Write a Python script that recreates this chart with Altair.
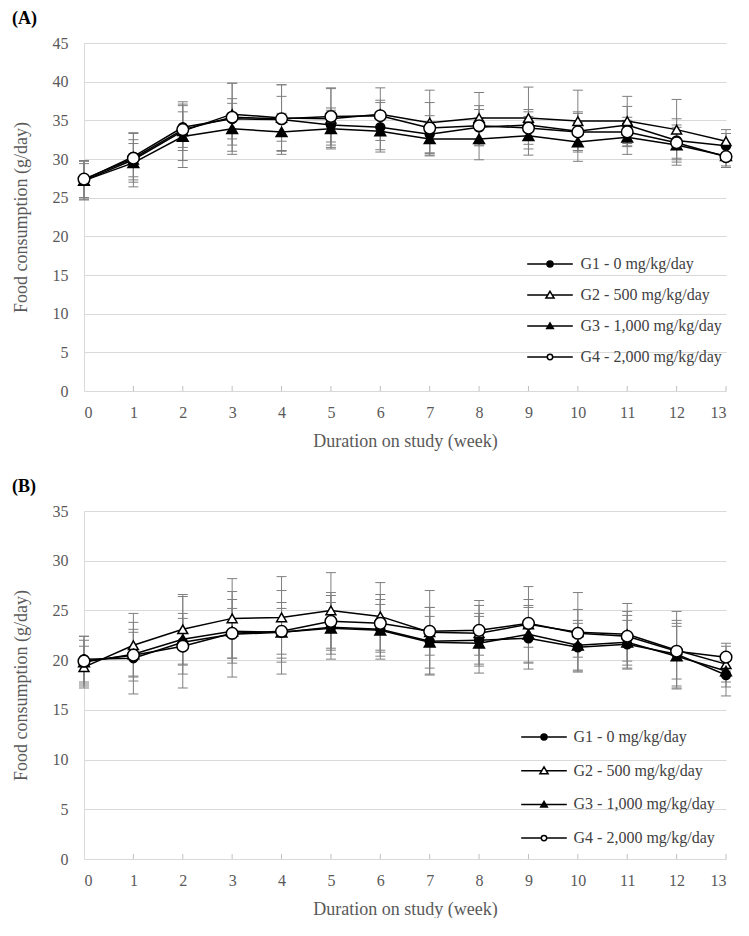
import altair as alt
import pandas as pd

weeks = list(range(14))
groups = ["G1 - 0 mg/kg/day", "G2 - 500 mg/kg/day", "G3 - 1,000 mg/kg/day", "G4 - 2,000 mg/kg/day"]

# Panel (A) means
a_g1 = [27.3, 30.3, 34.1, 35.2, 35.1, 34.4, 34.1, 33.2, 34.1, 34.4, 33.6, 34.4, 32.4, 31.7]
a_g2 = [27.2, 29.9, 33.6, 35.8, 35.3, 35.2, 35.8, 34.7, 35.3, 35.3, 34.9, 34.9, 33.8, 32.3]
a_g3 = [27.2, 29.5, 32.9, 33.9, 33.5, 33.9, 33.6, 32.6, 32.6, 33.0, 32.2, 32.8, 31.8, 30.4]
a_g4 = [27.4, 30.1, 33.8, 35.4, 35.2, 35.5, 35.6, 34.0, 34.3, 34.0, 33.5, 33.5, 32.1, 30.3]
# Panel (A) standard deviations
a_sd1 = [2.5, 3.0, 3.0, 2.6, 4.5, 2.2, 3.2, 2.4, 2.3, 2.0, 2.5, 2.4, 2.8, 1.6]
a_sd2 = [2.5, 3.5, 3.8, 4.0, 4.3, 3.9, 3.4, 4.2, 3.3, 4.0, 4.0, 3.2, 3.9, 1.5]
a_sd3 = [2.2, 2.5, 4.0, 3.3, 2.4, 2.4, 2.4, 2.2, 2.7, 2.5, 2.5, 2.2, 2.6, 1.3]
a_sd4 = [2.4, 2.4, 2.3, 4.4, 2.9, 3.7, 2.0, 3.3, 2.6, 2.1, 2.4, 1.9, 2.0, 1.4]

# Panel (B) means
b_g1 = [20.1, 20.2, 21.8, 22.6, 22.8, 23.3, 23.1, 21.9, 22.0, 22.2, 21.3, 21.6, 20.6, 18.5]
b_g2 = [19.3, 21.5, 23.1, 24.2, 24.3, 25.0, 24.4, 22.8, 22.7, 23.6, 22.8, 22.6, 21.0, 19.6]
b_g3 = [19.8, 20.6, 22.1, 22.9, 22.8, 23.2, 23.0, 21.8, 21.7, 22.6, 21.5, 21.8, 20.4, 18.9]
b_g4 = [19.9, 20.5, 21.4, 22.7, 22.9, 23.9, 23.7, 22.9, 23.0, 23.7, 22.7, 22.4, 20.9, 20.3]
# Panel (B) standard deviations
b_sd1 = [2.3, 3.6, 4.6, 4.3, 4.2, 3.2, 3.0, 3.4, 2.4, 3.1, 2.4, 2.4, 3.4, 2.1]
b_sd2 = [2.1, 3.2, 3.5, 4.0, 4.1, 3.8, 3.4, 4.2, 3.3, 3.8, 4.0, 3.1, 3.9, 1.8]
b_sd3 = [2.2, 2.2, 2.6, 3.2, 3.0, 2.6, 2.6, 2.6, 3.0, 2.9, 2.5, 2.7, 3.0, 1.6]
b_sd4 = [2.5, 2.6, 2.8, 2.5, 2.3, 2.9, 2.9, 2.4, 2.5, 2.4, 2.4, 2.5, 2.8, 1.4]

marker_shapes = ["circle", "triangle-up", "triangle-up", "circle"]
marker_fills = ["black", "white", "black", "white"]
marker_sizes = [80, 135, 135, 70]
legend_paths = [
    "M-3.8,0H-0.5M0.5,0H3.8M-0.5,0A0.5,0.5 0 1,0 0.5,0A0.5,0.5 0 1,0 -0.5,0Z",
    "M-3.8,0H-0.36M0.36,0H3.8M0,-0.62L0.68,0.52L-0.68,0.52Z",
    "M-3.8,0H-0.3M0.3,0H3.8M0,-0.5L0.55,0.42L-0.55,0.42Z",
    "M-3.8,0H-0.45M0.45,0H3.8M-0.45,0A0.45,0.45 0 1,0 0.45,0A0.45,0.45 0 1,0 -0.45,0Z",
]

FONT = "Liberation Serif"
W = 642


def make_df(means, sds):
    rows = []
    for g, m, s in zip(groups, means, sds):
        for w, mv, sv in zip(weeks, m, s):
            rows.append({"week": w, "group": g, "mean": mv,
                         "lo": round(mv - sv, 2), "hi": round(mv + sv, 2)})
    return pd.DataFrame(rows)


def panel(df, ymax, title, H, lx, ly, row_pad, lab_off):
    xs = alt.Scale(domain=[0, 13], nice=False, zero=False)
    ys = alt.Scale(domain=[0, ymax], nice=False)
    x_axis = alt.Axis(values=weeks, format="d", grid=False, ticks=False, tickSize=0,
                      labelPadding=13, title="Duration on study (week)", titlePadding=12)
    y_axis = alt.Axis(values=list(range(0, ymax + 1, 5)), grid=True, ticks=False, tickSize=0,
                      labelPadding=16, title="Food consumption (g/day)", titlePadding=22)
    X = alt.X("week:Q", scale=xs, axis=x_axis)

    def Y(field):
        return alt.Y(field, type="quantitative", scale=ys, axis=y_axis)

    base = alt.Chart(df)
    ticks = alt.Chart(pd.DataFrame({"week": weeks[1:]})).mark_rule(
        color="#bfbfbf", strokeWidth=1).encode(
        x=X, y=alt.value(H), y2=alt.value(H - 5))
    err = base.mark_rule(color="#7f7f7f", strokeWidth=1).encode(
        x=X, y=Y("lo"), y2="hi:Q")
    cap_lo = base.mark_tick(orient="horizontal", color="#7f7f7f", size=10, thickness=1,
                            opacity=1).encode(x=X, y=Y("lo"))
    cap_hi = base.mark_tick(orient="horizontal", color="#7f7f7f", size=10, thickness=1,
                            opacity=1).encode(x=X, y=Y("hi"))
    lines = base.mark_line(color="black", strokeWidth=1.5).encode(
        x=X, y=Y("mean"), detail="group:N", order="week:Q")
    pts = base.mark_point(filled=True, opacity=1, stroke="black", strokeWidth=1.5).encode(
        x=X, y=Y("mean"),
        shape=alt.Shape("group:N", scale=alt.Scale(domain=groups, range=marker_shapes), legend=None),
        fill=alt.Fill("group:N", scale=alt.Scale(domain=groups, range=marker_fills), legend=None),
        size=alt.Size("group:O", scale=alt.Scale(domain=groups, range=marker_sizes), legend=None),
    )
    leg = alt.Legend(orient="none", legendX=lx, legendY=ly, title=None, padding=0,
                     labelFont=FONT, labelFontSize=16, labelColor="#404040",
                     symbolSize=144, symbolStrokeWidth=1.5, symbolStrokeColor="black",
                     labelOffset=lab_off, rowPadding=row_pad, symbolOpacity=1)
    legend_layer = alt.Chart(df).transform_filter("false").mark_point(
        filled=True, opacity=1, strokeWidth=1.5).encode(
        shape=alt.Shape("group:N", scale=alt.Scale(domain=groups, range=legend_paths), legend=leg),
        fill=alt.Fill("group:N", scale=alt.Scale(domain=groups, range=marker_fills), legend=leg),
        stroke=alt.Stroke("group:N", scale=alt.Scale(domain=groups, range=["black"] * 4), legend=leg),
    )
    return alt.layer(ticks, err, cap_lo, cap_hi, lines, pts, legend_layer).resolve_scale(
        shape="independent", fill="independent", stroke="independent"
    ).properties(
        width=W, height=H,
        title=alt.TitleParams(title, anchor="start", frame="bounds", font=FONT, fontSize=18,
                              fontWeight="bold", color="black", offset=7),
    )


dfa = make_df([a_g1, a_g2, a_g3, a_g4], [a_sd1, a_sd2, a_sd3, a_sd4])
dfb = make_df([b_g1, b_g2, b_g3, b_g4], [b_sd1, b_sd2, b_sd3, b_sd4])

pa = panel(dfa, 45, "(A)", 348, 458, 213, 15, 22.5)
pb = panel(dfb, 35, "(B)", 348, 452, 218, 17.7, 21.5)

chart = alt.vconcat(pa, pb, spacing=28).resolve_scale(
    shape="independent", fill="independent", stroke="independent"
).properties(
    padding={"left": 4, "top": 2, "right": 0, "bottom": 0}
).configure_view(stroke=None).configure_axis(
    labelFont=FONT, labelFontSize=16, labelColor="#595959",
    titleFont=FONT, titleFontSize=18, titleFontWeight="normal", titleColor="#595959",
    domainColor="#d9d9d9", gridColor="#d9d9d9", domainWidth=1, gridWidth=1,
)

chart.save("out.html", embed_options={"renderer": "svg", "actions": False})
